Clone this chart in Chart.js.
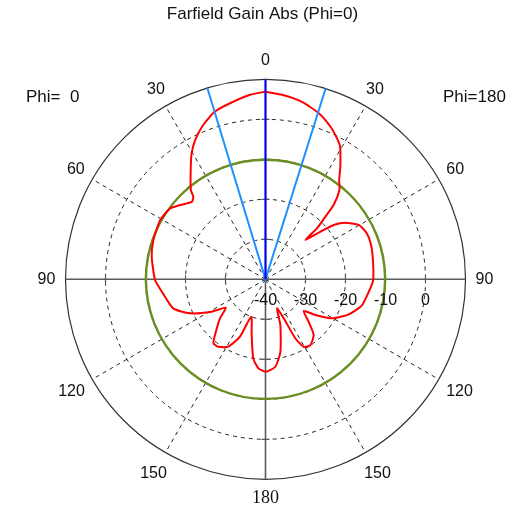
<!DOCTYPE html>
<html>
<head>
<meta charset="utf-8">
<script src="https://cdn.jsdelivr.net/npm/chart.js@4"></script>
<style>
  html, body { margin: 0; padding: 0; background: #ffffff; }
  #wrap { width: 528px; height: 521px; }
</style>
</head>
<body>
<div id="wrap"><canvas id="c" width="528" height="521"></canvas></div>
<script>
// Farfield gain (dBi) versus theta (deg), Phi = 0 cut (drawn on the left half)
const thetaPhi0 = [0, 4.8, 11.4, 16.8, 22, 26.8, 30.4, 34.4, 39.9, 41.2, 43.6, 49, 53.4, 60.7, 70.7, 78.8, 90.4, 96.8, 107.5, 114.2, 121, 125.6, 130.6, 137.8, 140.8, 145, 151.1, 156, 159, 166, 171.2, 175.4, 180];
const gainPhi0 = [6.9, 6.3, 4.9, 3.8, 1.6, -1.0, -3.5, -6.9, -10.9, -12.6, -13.3, -11.7, -10.3, -9.8, -10.3, -11.0, -12.4, -13.9, -15.8, -19.3, -24.3, -27.8, -25.0, -21.2, -19.4, -19.4, -20.8, -24.3, -30.0, -25.7, -20.0, -17.7, -16.9];

// Phi = 180 cut (drawn on the right half)
const thetaPhi180 = [0, 5.1, 11.6, 17.8, 23, 26.9, 29.4, 33.6, 36.6, 39.6, 42.5, 43.7, 45.3, 45.4, 49, 51.5, 54.6, 59.8, 65.6, 72.9, 81.5, 90.4, 94.9, 104.9, 112.8, 120.4, 125.6, 129.7, 134.5, 139.1, 145.7, 150.5, 153.2, 155, 158.4, 162, 168.4, 173.6, 180];
const gainPhi180 = [6.9, 6.3, 5.3, 3.6, 1.5, -0.5, -2.0, -6.2, -9.1, -11.0, -14.8, -18.4, -21.9, -26.0, -21.9, -18.2, -15.6, -13.0, -12.2, -12.3, -12.8, -13.1, -13.7, -15.0, -17.4, -20.7, -24.7, -27.6, -24.9, -21.6, -20.1, -20.6, -23.5, -29.3, -32.2, -28.0, -21.5, -18.0, -16.9];

// Main lobe direction and 3 dB beam edges (negative = Phi=0 side)
const mainLobeTheta = 0;
const beamEdgeTheta = [-16.9, 17.5];
// Reference level ring (dB)
const levelRing = -10.1;

// Radial scale
const gainMin = -40;
const gainMax = 10;
const gainTickLabels = [-40, -30, -20, -10, 0];
const angleTickLabels = [0, 30, 60, 90, 120, 150, 180];

const deg = Math.PI / 180;
// signed theta: negative on the Phi=0 (left) half, positive on the Phi=180 (right) half
function polarPoint(signedTheta, gain) {
  const r = Math.max(gain, gainMin) - gainMin;
  return { x: r * Math.sin(signedTheta * deg), y: r * Math.cos(signedTheta * deg) };
}

const patternPoints = [];
thetaPhi0.forEach((t, i) => patternPoints.push(polarPoint(-t, gainPhi0[i])));
for (let i = thetaPhi180.length - 2; i >= 0; i--) {
  patternPoints.push(polarPoint(thetaPhi180[i], gainPhi180[i]));
}

const mainLobePoints = [polarPoint(mainLobeTheta, gainMin), polarPoint(mainLobeTheta, gainMax)];
const beamEdgePoints = [
  polarPoint(beamEdgeTheta[0], gainMax),
  polarPoint(0, gainMin),
  polarPoint(beamEdgeTheta[1], gainMax)
];

const span = gainMax - gainMin;

const polarFrame = {
  id: 'polarFrame',
  beforeDatasetsDraw(chart) {
    const { ctx, scales: { x, y } } = chart;
    const cx = x.getPixelForValue(0), cy = y.getPixelForValue(0);
    const rad = g => x.getPixelForValue(g - gainMin) - cx;
    const R = rad(gainMax);
    ctx.save();

    // dashed rings
    ctx.strokeStyle = '#222222';
    ctx.lineWidth = 1;
    ctx.setLineDash([4, 4]);
    gainTickLabels.forEach(g => {
      const r = rad(g);
      if (r <= 0) return;
      ctx.beginPath();
      ctx.arc(cx, cy, r, 0, 2 * Math.PI);
      ctx.stroke();
    });
    // dashed spokes
    [30, 60, 120, 150].forEach(a => {
      [-1, 1].forEach(s => {
        ctx.beginPath();
        ctx.moveTo(cx, cy);
        ctx.lineTo(cx + s * R * Math.sin(a * deg), cy - R * Math.cos(a * deg));
        ctx.stroke();
      });
    });
    ctx.setLineDash([]);

    // outer ring
    ctx.strokeStyle = '#333333';
    ctx.lineWidth = 1.2;
    ctx.beginPath();
    ctx.arc(cx, cy, R, 0, 2 * Math.PI);
    ctx.stroke();

    // axes
    ctx.strokeStyle = '#5a5a5a';
    ctx.lineWidth = 1.6;
    ctx.beginPath();
    ctx.moveTo(cx - R, cy); ctx.lineTo(cx + R, cy);
    ctx.moveTo(cx, cy - R); ctx.lineTo(cx, cy + R);
    ctx.stroke();

    // axis ticks
    ctx.lineWidth = 1.2;
    ctx.beginPath();
    gainTickLabels.forEach(g => {
      const r = rad(g);
      if (r <= 0) return;
      ctx.moveTo(cx + r, cy - 4); ctx.lineTo(cx + r, cy + 4);
      ctx.moveTo(cx - r, cy - 4); ctx.lineTo(cx - r, cy + 4);
      ctx.moveTo(cx - 4, cy + r); ctx.lineTo(cx + 4, cy + r);
      ctx.moveTo(cx - 4, cy - r); ctx.lineTo(cx + 4, cy - r);
    });
    ctx.stroke();

    // reference level ring
    ctx.strokeStyle = '#6b8e23';
    ctx.lineWidth = 2.4;
    ctx.beginPath();
    ctx.arc(cx, cy, rad(levelRing), 0, 2 * Math.PI);
    ctx.stroke();

    ctx.restore();
  },
  afterDatasetsDraw(chart) {
    const { ctx, scales: { x, y } } = chart;
    const cx = x.getPixelForValue(0), cy = y.getPixelForValue(0);
    const rad = g => x.getPixelForValue(g - gainMin) - cx;
    ctx.save();
    ctx.fillStyle = '#111111';
    ctx.textAlign = 'center';
    ctx.textBaseline = 'middle';

    // title
    ctx.font = '17px "Liberation Sans", Arial, sans-serif';
    ctx.fillText('Farfield Gain Abs (Phi=0)', 262.5, 14);

    // cut names
    ctx.textAlign = 'left';
    ctx.fillText('Phi=  0', 26, 97);
    ctx.fillText('Phi=180', 443, 97);

    // theta labels, lower half set slightly further out
    ctx.textAlign = 'center';
    angleTickLabels.forEach(a => {
      const labR = rad(gainMax) + (a > 90 && a < 180 ? 24 : 19);
      const sides = (a === 0 || a === 180) ? [1] : [-1, 1];
      sides.forEach(s => {
        const px = cx + s * labR * Math.sin(a * deg);
        const py = cy - labR * Math.cos(a * deg);
        if (a === 180) {
          ctx.font = '18px "Liberation Serif", "Times New Roman", serif';
        } else {
          ctx.font = '16px "Liberation Sans", Arial, sans-serif';
        }
        ctx.fillText(String(a), px, py);
      });
    });

    // gain labels along the horizontal axis
    ctx.font = '16px "Liberation Sans", Arial, sans-serif';
    gainTickLabels.forEach(g => {
      ctx.fillText(String(g), cx + rad(g), cy + 21);
    });
    ctx.restore();
  }
};

new Chart(document.getElementById('c'), {
  type: 'scatter',
  data: {
    datasets: [
      {
        label: 'Main lobe',
        data: mainLobePoints,
        showLine: true,
        borderColor: '#0000ff',
        borderWidth: 2,
        pointRadius: 0,
        order: 0
      },
      {
        label: '3 dB beam edges',
        data: beamEdgePoints,
        showLine: true,
        borderColor: '#1e90ff',
        borderWidth: 2,
        pointRadius: 0,
        order: 1
      },
      {
        label: 'Gain',
        data: patternPoints,
        showLine: true,
        borderColor: '#ff0000',
        borderWidth: 2,
        pointRadius: 0,
        tension: 0.2,
        order: 2
      }
    ]
  },
  options: {
    responsive: false,
    animation: false,
    devicePixelRatio: 1,
    layout: { padding: { left: 65.5, right: 62.5, top: 79.3, bottom: 41.7 } },
    scales: {
      x: { type: 'linear', min: -span, max: span, display: false },
      y: { type: 'linear', min: -span, max: span, display: false }
    },
    plugins: {
      legend: { display: false },
      tooltip: { enabled: false }
    }
  },
  plugins: [polarFrame]
});
</script>
</body>
</html>
